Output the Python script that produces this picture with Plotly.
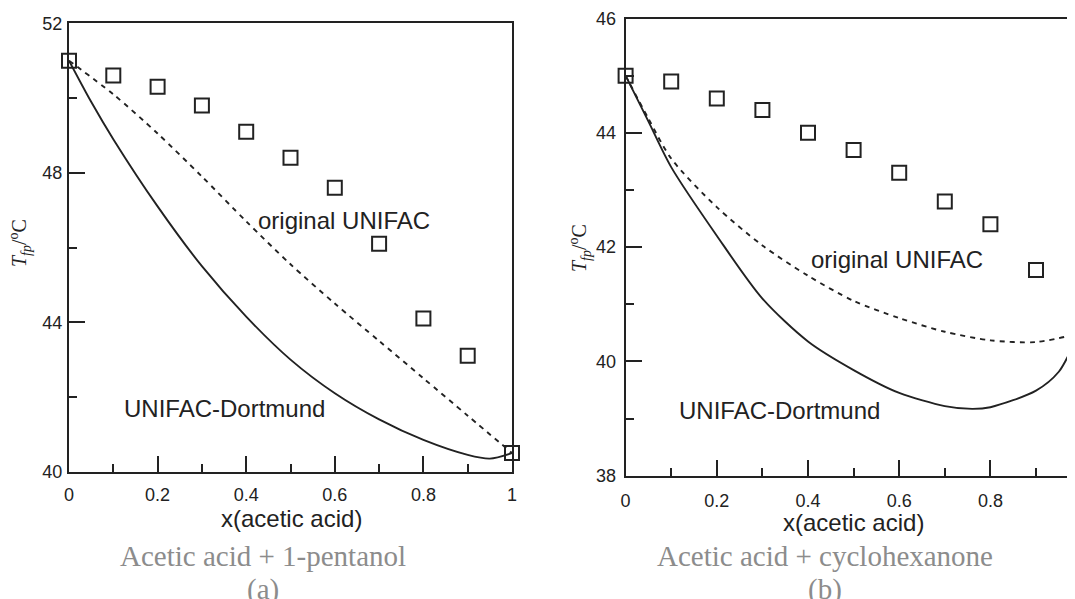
"""Freezing point of acetic acid mixtures: experiment vs UNIFAC models."""

import plotly.graph_objects as go

# ---- data -----------------------------------------------------------------
# (a) acetic acid + 1-pentanol
x_exp_a = [0.0, 0.1, 0.2, 0.3, 0.4, 0.5, 0.6, 0.7, 0.8, 0.9, 1.0]
t_exp_a = [51.0, 50.6, 50.3, 49.8, 49.1, 48.4, 47.6, 46.1, 44.1, 43.1, 40.5]

x_dort_a = [0.0, 0.05, 0.1, 0.2, 0.3, 0.4, 0.5, 0.6, 0.7, 0.8, 0.9, 0.95, 1.0]
t_dort_a = [51.0, 49.9, 48.9, 47.1, 45.5, 44.15, 43.0, 42.1, 41.4, 40.85, 40.45, 40.35, 40.5]

x_orig_a = [0.0, 0.1, 0.2, 0.3, 0.4, 0.5, 0.6, 0.7, 0.8, 0.9, 1.0]
t_orig_a = [51.0, 50.1, 49.05, 47.9, 46.7, 45.55, 44.5, 43.5, 42.5, 41.5, 40.5]

# (b) acetic acid + cyclohexanone
x_exp_b = [0.0, 0.1, 0.2, 0.3, 0.4, 0.5, 0.6, 0.7, 0.8, 0.9, 1.0]
t_exp_b = [45.0, 44.9, 44.6, 44.4, 44.0, 43.7, 43.3, 42.8, 42.4, 41.6, 40.5]

x_dort_b = [0.0, 0.05, 0.1, 0.2, 0.3, 0.4, 0.5, 0.6, 0.7, 0.76, 0.8, 0.9, 0.95, 0.98, 1.0]
t_dort_b = [45.0, 44.2, 43.4, 42.2, 41.1, 40.35, 39.85, 39.45, 39.22, 39.17, 39.2, 39.49,
            39.82, 40.25, 40.6]

x_orig_b = [0.0, 0.05, 0.1, 0.2, 0.3, 0.4, 0.5, 0.6, 0.7, 0.8, 0.9, 1.0]
t_orig_b = [45.0, 44.25, 43.55, 42.7, 42.03, 41.5, 41.06, 40.76, 40.52, 40.37, 40.34, 40.5]

x_ticks = [0, 0.2, 0.4, 0.6, 0.8, 1.0]
x_ticktext = ["0", "0.2", "0.4", "0.6", "0.8", "1"]
captions = ["Acetic acid + 1-pentanol", "Acetic acid + cyclohexanone"]
panel_tags = ["(a)", "(b)"]

# ---- styling --------------------------------------------------------------
INK = "#222222"
SANS = "Liberation Sans, Arial, sans-serif"
SERIF = "Liberation Serif, Times New Roman, serif"
PAGE_W, PAGE_H = 1075, 599
OFF = 8  # default page body margin
W, H = PAGE_W - OFF, PAGE_H - OFF


def px(x):
    # screen pixel -> paper fraction
    return (x - OFF) / W


def py(y):
    return 1 - (y - OFF) / H


fig = go.Figure()


def add_panel(fig, xs, ys, x_exp, t_exp, x_dort, t_dort, x_orig, t_orig, edge_clip=False):
    fig.add_trace(go.Scatter(
        x=x_dort, y=t_dort, mode="lines", xaxis=xs, yaxis=ys,
        line=dict(color=INK, width=1.9, shape="spline", smoothing=0.8),
        showlegend=False, hoverinfo="skip"))
    fig.add_trace(go.Scatter(
        x=x_orig, y=t_orig, mode="lines", xaxis=xs, yaxis=ys,
        line=dict(color=INK, width=1.9, dash="5px,5px", shape="spline", smoothing=0.8),
        showlegend=False, hoverinfo="skip"))
    marker = dict(symbol="square-open", size=14, color=INK, line=dict(width=2, color=INK))
    if edge_clip:
        # last point lies past the visible range -> keep it clipped
        fig.add_trace(go.Scatter(
            x=x_exp[:-1], y=t_exp[:-1], mode="markers", xaxis=xs, yaxis=ys,
            marker=marker, cliponaxis=False, showlegend=False))
        fig.add_trace(go.Scatter(
            x=x_exp[-1:], y=t_exp[-1:], mode="markers", xaxis=xs, yaxis=ys,
            marker=marker, cliponaxis=True, showlegend=False))
    else:
        fig.add_trace(go.Scatter(
            x=x_exp, y=t_exp, mode="markers", xaxis=xs, yaxis=ys,
            marker=marker, cliponaxis=False, showlegend=False))


add_panel(fig, "x", "y", x_exp_a, t_exp_a, x_dort_a, t_dort_a, x_orig_a, t_orig_a)
add_panel(fig, "x2", "y2", x_exp_b, t_exp_b, x_dort_b, t_dort_b, x_orig_b, t_orig_b,
          edge_clip=True)

axis_common = dict(
    showgrid=False, zeroline=False, showline=True, linecolor=INK, linewidth=2,
    ticks="inside", ticklen=16, tickwidth=2, tickcolor=INK, automargin=False,
    tickfont=dict(family=SANS, size=18, color=INK),
)
minor_x = dict(dtick=0.1, ticks="inside", ticklen=8, tickwidth=2, tickcolor=INK)

fig.update_layout(
    width=W, height=H,
    margin=dict(l=0, r=0, t=0, b=0, autoexpand=False),
    paper_bgcolor="white", plot_bgcolor="white",
    xaxis=dict(axis_common, domain=[px(69), px(512)], range=[0, 1], anchor="y",
               tickvals=x_ticks, ticktext=x_ticktext, mirror=True,
               ticklabelstandoff=6, minor=minor_x),
    yaxis=dict(axis_common, domain=[py(471.7), py(23.3)], range=[40, 52], anchor="x",
               tick0=40, dtick=4, mirror=True, ticklabelstandoff=1,
               minor=dict(dtick=2, ticks="inside", ticklen=8, tickwidth=2, tickcolor=INK)),
    xaxis2=dict(axis_common, domain=[px(625.6), 1.0], range=[0, (PAGE_W - 625.6) / 456],
                anchor="y2", tickvals=x_ticks[:-1], ticktext=x_ticktext[:-1], mirror=True,
                ticklabelstandoff=8, minor=minor_x),
    yaxis2=dict(axis_common, domain=[py(475.8), py(18.5)], range=[38, 46], anchor="x2",
                tick0=38, dtick=2, mirror=False, ticklabelstandoff=4,
                minor=dict(dtick=1, ticks="inside", ticklen=8, tickwidth=2, tickcolor=INK)),
)

ann = []
label_font = dict(family=SANS, size=24, color=INK)
center = dict(xanchor="center", yanchor="middle", showarrow=False)
# curve labels (data coordinates)
ann.append(dict(center, x=0.62, y=46.73, xref="x", yref="y", text="original UNIFAC",
                font=label_font))
ann.append(dict(center, x=0.351, y=41.7, xref="x", yref="y", text="UNIFAC-Dortmund",
                font=label_font))
ann.append(dict(center, x=0.596, y=41.78, xref="x2", yref="y2", text="original UNIFAC",
                font=label_font))
ann.append(dict(center, x=0.3375, y=39.14, xref="x2", yref="y2", text="UNIFAC-Dortmund",
                font=label_font))

# axis titles
for cx, cy in [(20, 243), (580, 248)]:
    ann.append(dict(center, x=px(cx), y=py(cy), xref="paper", yref="paper",
                    text="<i>T</i><sub><i>fp</i></sub>/<sup>o</sup>C", textangle=-90,
                    font=dict(family=SERIF, size=20, color=INK)))
for cx, cy in [(291, 518), (853, 522)]:
    ann.append(dict(center, x=px(cx), y=py(cy), xref="paper", yref="paper",
                    text="x(acetic acid)", font=label_font))

# captions
cap_font = dict(family=SERIF, size=29, color="#8c8c8c")
for cx, cap, tag in zip([263.4, 825], captions, panel_tags):
    ann.append(dict(center, x=px(cx), y=py(555.5), xref="paper", yref="paper",
                    text=cap, font=cap_font))
    ann.append(dict(center, x=px(cx), y=py(589), xref="paper", yref="paper",
                    text=tag, font=cap_font))

fig.update_layout(annotations=ann)

fig.write_html("out.html")
